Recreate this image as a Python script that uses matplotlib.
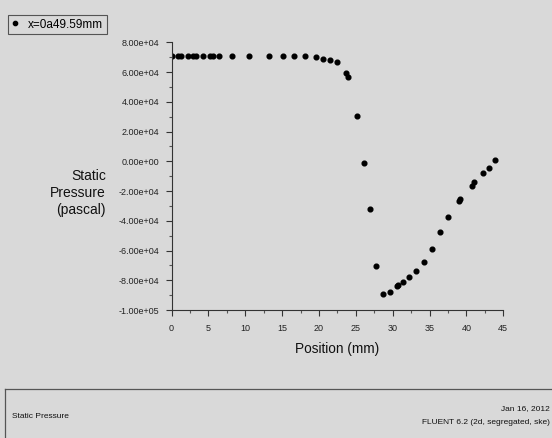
import matplotlib
matplotlib.use('Agg')
import matplotlib.pyplot as plt
from matplotlib.ticker import MultipleLocator, FormatStrFormatter
from matplotlib.lines import Line2D

plt.rcParams['font.family'] = ['Liberation Sans', 'DejaVu Sans']

# position along the line (mm) and static pressure (Pa)
position = [0.0, 0.92, 1.25, 2.2, 2.95, 3.28, 4.31, 5.22, 5.58, 6.44, 8.2, 10.54,
            13.17, 15.07, 16.56, 18.13, 19.58, 20.57, 21.48, 22.38, 23.64, 23.92,
            25.18, 26.12, 26.9, 27.7, 28.75, 29.6, 30.55, 30.72, 31.36, 32.2,
            33.17, 34.21, 35.34, 36.42, 37.5, 39.0, 39.09, 40.76, 41.08, 42.2,
            43.0, 43.87]
pressure = [71000, 71000, 71000, 71000, 71000, 71000, 71000, 71000, 71000, 71000,
            71000, 71000, 70600, 70600, 70600, 70600, 70200, 68800, 68200, 66600,
            59300, 57000, 30700, -900, -32400, -70100, -89000, -87900, -83700,
            -83000, -81000, -78100, -73900, -67400, -58700, -47600, -37300,
            -26600, -25700, -16300, -14100, -7600, -4300, 600]
series_name = 'x=0a49.59mm'

bg = '#d9d9d9'
W, H = 552, 438
fig = plt.figure(figsize=(W / 100, H / 100), dpi=100, facecolor=bg)
ax = fig.add_axes([171.5 / W, 1 - 310 / H, (503.3 - 171.5) / W, (310 - 42.3) / H])
ax.set_facecolor(bg)

ax.plot(position, pressure, 'o', color='black', markersize=3.4, label=series_name)

ax.set_xlim(0, 45)
ax.set_ylim(-1e5, 8e4)
ax.xaxis.set_major_locator(MultipleLocator(5))
ax.xaxis.set_minor_locator(MultipleLocator(2.5))
ax.yaxis.set_major_locator(MultipleLocator(2e4))
ax.yaxis.set_minor_locator(MultipleLocator(1e4))
ax.yaxis.set_major_formatter(FormatStrFormatter('%.2e'))

for side in ['top', 'right']:
    ax.spines[side].set_visible(False)
for side in ['left', 'bottom']:
    ax.spines[side].set_color('#333333')
    ax.spines[side].set_linewidth(0.8)

ax.tick_params(which='major', length=4, width=0.8, color='#333333',
               labelsize=6.5, labelcolor='#222222')
ax.tick_params(which='minor', length=2, width=0.8, color='#555555')
ax.tick_params(axis='x', which='major', pad=6)
ax.tick_params(axis='y', which='major', pad=5)

# axis titles placed like the Fluent layout
fig.text(106 / W, 1 - 193 / H, 'Static\nPressure\n(pascal)', ha='right', va='center',
         multialignment='right', fontsize=10, linespacing=1.25, color='#111111')
fig.text(337 / W, 1 - 349 / H, 'Position (mm)', ha='center', va='center',
         fontsize=9.8, color='#111111')

leg = fig.legend(loc='upper left', bbox_to_anchor=(8 / W, 1 - 15 / H),
                 borderaxespad=0, fancybox=False, frameon=True, fontsize=8.5,
                 handlelength=0.6, handletextpad=0.8, borderpad=0.3,
                 markerscale=0.9)
leg.get_frame().set_edgecolor('#333333')
leg.get_frame().set_facecolor(bg)
leg.get_frame().set_linewidth(0.8)

# bottom info panel
fig.add_artist(Line2D([5 / W, 1], [1 - 388.7 / H, 1 - 388.7 / H], color='#555555', lw=0.9))
fig.add_artist(Line2D([5 / W, 5 / W], [1 - 388.7 / H, 0], color='#555555', lw=0.9))
fig.text(12 / W, 1 - 416 / H, 'Static Pressure', ha='left', va='center', fontsize=6, color='#111111')
fig.text(550 / W, 1 - 409 / H, 'Jan 16, 2012', ha='right', va='center', fontsize=6, color='#111111')
fig.text(550 / W, 1 - 423 / H, 'FLUENT 6.2 (2d, segregated, ske)', ha='right', va='center',
         fontsize=6, color='#111111')

fig.savefig('out.png', dpi=100, facecolor=bg)
